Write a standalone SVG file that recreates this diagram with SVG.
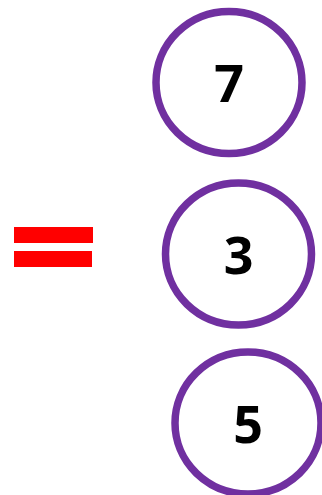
<svg xmlns="http://www.w3.org/2000/svg" width="322" height="495" viewBox="0 0 322 495">
<style>
.c{fill:#fff;stroke:#7030a0;stroke-width:7.5}
.t{font-family:"Open Sans","Liberation Sans",sans-serif;font-weight:bold;font-size:52px;fill:#000;text-anchor:middle}
.eq{fill:#ff0000}
</style>
<rect width="322" height="495" fill="#fff"/>
<g id="equals"><rect class="eq" x="14" y="227" width="79" height="16"/><rect class="eq" x="14" y="251" width="78" height="16"/></g>
<g id="n7"><ellipse class="c" cx="229" cy="82.5" rx="73" ry="71"/><text class="t" x="229" y="101.5">7</text></g>
<g id="n3"><ellipse class="c" cx="238.5" cy="254" rx="73" ry="71"/><text class="t" x="238.5" y="273.5">3</text></g>
<g id="n5"><ellipse class="c" cx="248" cy="423" rx="73" ry="71"/><text class="t" x="248" y="442.5">5</text></g>
</svg>
